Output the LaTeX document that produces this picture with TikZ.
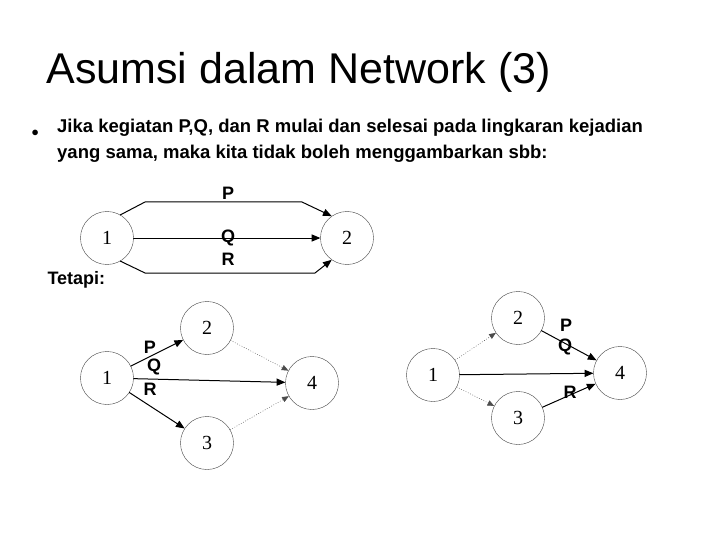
\documentclass[tikz,border=0pt]{standalone}
\usepackage{fontspec}
\setmainfont{Liberation Serif}
\setsansfont{Liberation Sans}
\usetikzlibrary{arrows}

\begin{document}
\begin{tikzpicture}[x=1pt,y=-1pt,line cap=round,line join=round,>=triangle 45]
\tikzset{
    event/.style=    {circle,draw=black!75,thin,minimum size=53pt,inner sep=0pt,font=\fontsize{20}{24}\selectfont},
    act/.style=      {->,line width=1pt},
    dummy/.style=    {->,line width=0.5pt,dotted,black!70},
    lbl/.style=      {font=\sffamily\bfseries\fontsize{18}{20}\selectfont}
}
\useasboundingbox (0,0) rectangle (720,540);
%% Title and text
\node[anchor=base west,font=\sffamily\fontsize{43}{46}\selectfont] (title) at (43,84) {Asumsi dalam Network (3)};
\node[anchor=base west,font=\sffamily\bfseries\Large] (bullet) at (28,137) {$\bullet$};
\node[anchor=north west,font=\sffamily\bfseries\fontsize{18.5}{26}\selectfont,align=left,inner sep=0pt] (text) at (57,119)
  {Jika kegiatan P,Q, dan R mulai dan selesai pada lingkaran kejadian\\yang sama, maka kita tidak boleh menggambarkan sbb:};

%% Wrong drawing
\node[event] (a1) at (107,238) {1};
\node[event] (a2) at (347,238) {2};
\coordinate (pa) at (145,202); \coordinate (pb) at (302,202);
\coordinate (ra) at (145,273); \coordinate (rb) at (315,273);
\draw[act] (a1.60) -- (pa) -- (pb) -- (a2.125);
\draw[act] (a1) -- (a2);
\draw[act] (a1.-60) -- (ra) -- (rb) -- (a2.-125);
\node[lbl] (lp) at (228,193) {P};
\node[lbl] (lq) at (228,238) {Q};
\node[lbl] (lr) at (228,259) {R};

\node[anchor=west,font=\sffamily\bfseries\fontsize{18}{20}\selectfont] (tetapi) at (44,280) {Tetapi:};

%% Correct drawing, left
\node[event] (b1) at (107,378) {1};
\node[event] (b2) at (207,328) {2};
\node[event] (b3) at (207,443) {3};
\node[event] (b4) at (312,383) {4};
\draw[act] (b1) -- (b2);
\draw[act] (b1) -- (b4);
\draw[act] (b1) -- (b3);
\draw[dummy] (b2) -- (b4);
\draw[dummy] (b3) -- (b4);
\node[lbl] (mp) at (150,347) {P};
\node[lbl] (mq) at (154,367) {Q};
\node[lbl] (mr) at (150,389) {R};

%% Correct drawing, right
\node[event] (c1) at (433,375) {1};
\node[event] (c2) at (518,318) {2};
\node[event] (c3) at (518,418) {3};
\node[event] (c4) at (620,373) {4};
\draw[dummy] (c1) -- (c2);
\draw[dummy] (c1) -- (c3);
\draw[act] (c1) -- (c4);
\draw[act] (c2) -- (c4);
\draw[act] (c3) -- (c4);
\node[lbl] (np) at (566,325) {P};
\node[lbl] (nq) at (565,347) {Q};
\node[lbl] (nr) at (570,392) {R};
\end{tikzpicture}
\end{document}
